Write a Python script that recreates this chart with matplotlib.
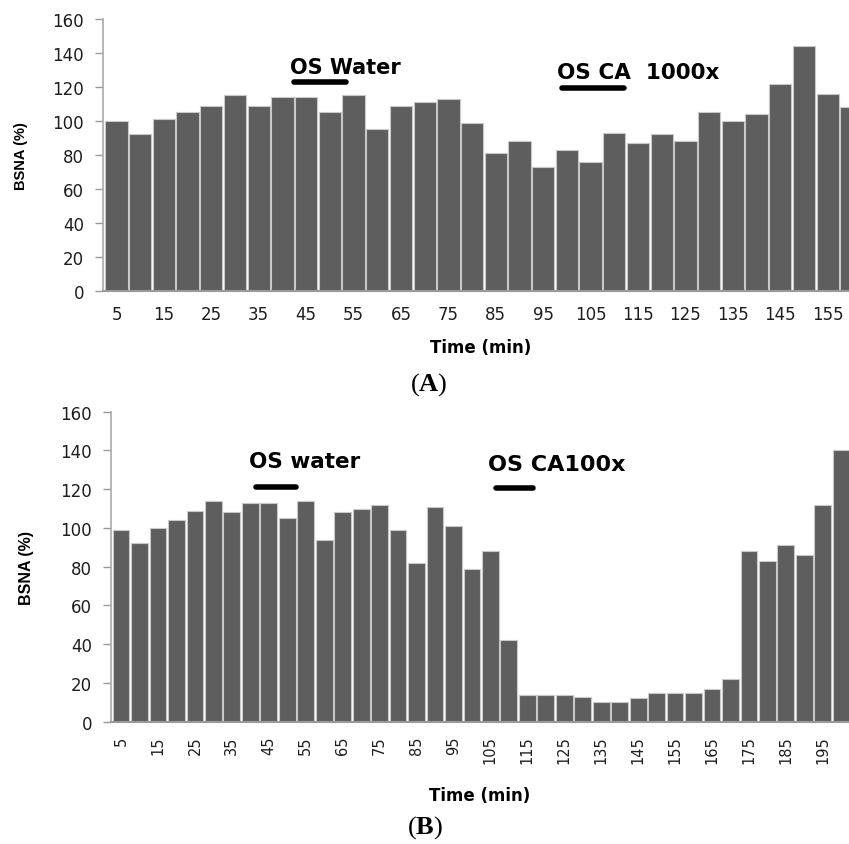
import matplotlib
matplotlib.use("Agg")
import matplotlib.pyplot as plt
import numpy as np

# ---------- data ----------
time_a = list(range(5, 165, 5))
bsna_a = [100, 92, 101, 105, 109, 115, 109, 114, 114, 105, 115, 95,
          109, 111, 113, 99, 81, 88, 73, 83, 76, 93, 87, 92,
          88, 105, 100, 104, 122, 144, 116, 108]
ticks_a = list(range(5, 160, 10))

time_b = list(range(5, 205, 5))
bsna_b = [99, 92, 100, 104, 109, 114, 108, 113, 113, 105, 114, 94,
          108, 110, 112, 99, 82, 111, 101, 79, 88, 42, 14, 14,
          14, 13, 10, 10, 12, 15, 15, 15, 17, 22, 88, 83, 91, 86, 112, 140]
ticks_b = list(range(5, 200, 10))

yticks = list(range(0, 161, 20))

BAR = "#5e5e5e"
EDGE = "#c8c8c8"
TXT = "#1e1e1e"

plt.rcParams["mathtext.fontset"] = "custom"
plt.rcParams["mathtext.bf"] = "Liberation Serif:bold"
plt.rcParams["mathtext.rm"] = "Liberation Serif"

fig = plt.figure(figsize=(8.49, 8.45), dpi=100)


def style_axes(ax, xticks, rot, fs):
    ax.set_ylim(0, 160)
    ax.set_yticks(yticks)
    ax.set_xticks(xticks)
    ax.set_xticklabels([str(t) for t in xticks], rotation=rot)
    for s in ["top", "right"]:
        ax.spines[s].set_visible(False)
    ax.spines["left"].set_color("#aaaaaa")
    ax.spines["left"].set_linewidth(1.2)
    ax.spines["bottom"].set_color("#999999")
    ax.spines["bottom"].set_linewidth(1.5)
    ax.tick_params(axis="y", length=5.5, width=1, color="#999999", pad=8,
                   labelsize=12, labelcolor=TXT)
    ax.tick_params(axis="x", length=0, pad=10, labelsize=fs, labelcolor=TXT)


# ---------- panel A ----------
ax1 = fig.add_axes([103 / 849, 1 - 291.7 / 845, 1 - 103 / 849, 271.7 / 845])
ax1.bar(time_a, bsna_a, width=4.7, color=BAR, edgecolor=EDGE, linewidth=0.8)
ax1.set_xlim(2.15, 159.5)
style_axes(ax1, ticks_a, 0, 12)
ax1.set_ylabel("BSNA (%)", fontsize=10.5, fontweight="bold",
               family="Liberation Sans")
ax1.yaxis.set_label_coords(-0.1, 0.5)
ax1.set_xlabel("Time (min)", fontsize=12, fontweight="bold")
ax1.xaxis.set_label_coords((481 - 103) / 746, -0.175)

ax1.plot([42.5, 53.5], [123, 123], color="black", lw=4, solid_capstyle="round")
ax1.text(41.6, 132, "OS Water", fontsize=15, fontweight="bold",
         va="center", ha="left", color="black")
ax1.plot([99, 112], [119.5, 119.5], color="black", lw=4, solid_capstyle="round")
ax1.text(98.0, 129, "OS CA  1000x", fontsize=15.5, fontweight="bold",
         va="center", ha="left", color="black")

# ---------- panel B ----------
ax2 = fig.add_axes([110.7 / 849, 1 - 722.7 / 845, 1 - 110.7 / 849, 310 / 845])
ax2.bar(time_b, bsna_b, width=4.55, color=BAR, edgecolor=EDGE, linewidth=0.8)
ax2.set_xlim(2.2, 202.1)
style_axes(ax2, ticks_b, 90, 10.5)
ax2.set_ylabel("BSNA (%)", fontsize=11.5, fontweight="bold",
               family="Liberation Sans")
ax2.yaxis.set_label_coords(-0.104, 0.5)
ax2.set_xlabel("Time (min)", fontsize=12, fontweight="bold")
ax2.xaxis.set_label_coords((480 - 110.7) / 738.3, -0.207)

ax2.plot([41.5, 52.5], [121.3, 121.3], color="black", lw=4, solid_capstyle="round")
ax2.text(39.6, 134.5, "OS water", fontsize=15.5, fontweight="bold",
         va="center", ha="left", color="black")
ax2.plot([106.5, 116.5], [120.5, 120.5], color="black", lw=4, solid_capstyle="round")
ax2.text(104.4, 133, "OS CA100x", fontsize=16, fontweight="bold",
         va="center", ha="left", color="black")

# ---------- panel letters ----------
fig.text(429 / 849, 1 - 385 / 845, r"($\mathbf{A}$)", fontsize=19,
         family="Liberation Serif", ha="center", va="center")
fig.text(425 / 849, 1 - 828 / 845, r"($\mathbf{B}$)", fontsize=19,
         family="Liberation Serif", ha="center", va="center")

fig.savefig("out.png", dpi=100)
